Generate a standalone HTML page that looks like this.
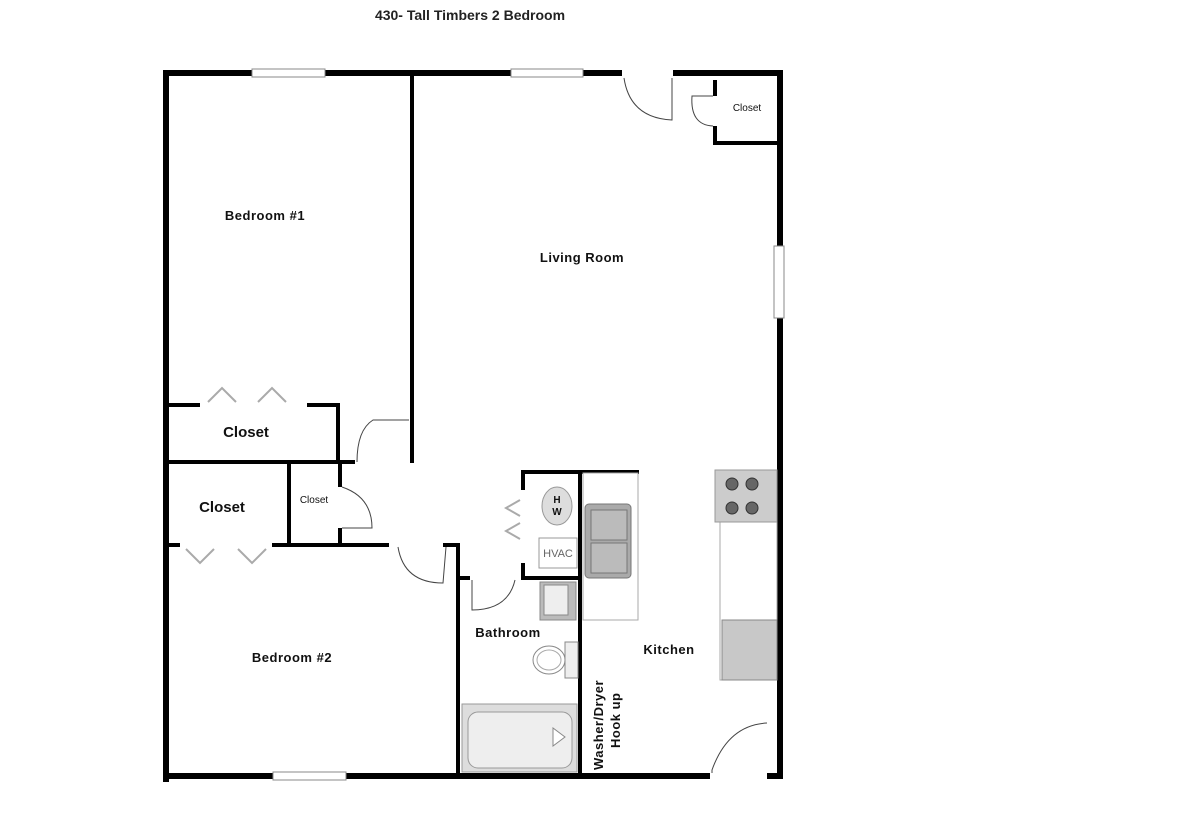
<!DOCTYPE html>
<html><head><style>
html,body{margin:0;padding:0;background:#fff;width:1200px;height:821px;overflow:hidden}
svg{display:block}
text{font-family:"Liberation Sans",Arial,sans-serif;fill:#111}
.b{font-weight:bold;font-size:13px;letter-spacing:0.5px}
</style></head><body>
<svg width="1200" height="821" viewBox="0 0 1200 821">
<text x="470" y="20" text-anchor="middle" style="font-size:14px;font-weight:bold;fill:#222">430- Tall Timbers 2 Bedroom</text>
<g fill="#000">
<!-- outer walls -->
<rect x="163" y="70" width="459" height="6"/>
<rect x="673" y="70" width="110" height="6"/>
<rect x="163" y="70" width="6" height="712"/>
<rect x="777" y="70" width="6" height="709"/>
<rect x="163" y="773" width="547" height="6"/>
<rect x="767" y="773" width="16" height="6"/>
<!-- interior -->
<rect x="410" y="76" width="4" height="387"/>
<rect x="169" y="403" width="31" height="4"/>
<rect x="307" y="403" width="33" height="4"/>
<rect x="336" y="403" width="4" height="60"/>
<rect x="169" y="460" width="186" height="4"/>
<rect x="287" y="462" width="4" height="85"/>
<rect x="338" y="462" width="4" height="25"/>
<rect x="338" y="528" width="4" height="18"/>
<rect x="169" y="543" width="11" height="4"/>
<rect x="272" y="543" width="117" height="4"/>
<rect x="443" y="543" width="17" height="4"/>
<rect x="456" y="543" width="4" height="232"/>
<rect x="456" y="576" width="14" height="4"/>
<rect x="521" y="470" width="118" height="4"/>
<rect x="521" y="470" width="4" height="20"/>
<rect x="521" y="563" width="4" height="17"/>
<rect x="521" y="576" width="60" height="4"/>
<rect x="578" y="470" width="4" height="305"/>
<rect x="713" y="80" width="4" height="16"/>
<rect x="713" y="126" width="4" height="18"/>
<rect x="713" y="141" width="66" height="4"/>
</g>
<!-- windows -->
<g fill="#fff" stroke="#888" stroke-width="1">
<rect x="252" y="69" width="73" height="8"/>
<rect x="511" y="69" width="72" height="8"/>
<rect x="774" y="246" width="10" height="72"/>
<rect x="273" y="772" width="73" height="8"/>
</g>
<!-- doors -->
<g fill="none" stroke="#444" stroke-width="1">
<path d="M624 78 Q630 118 672 120 L672 78"/>
<path d="M713 96 L692 96 Q690 125 713 126"/>
<path d="M409 420 L373 420 Q357 430 357 462"/>
<path d="M342 487 Q372 497 372 528 L342 528"/>
<path d="M398 547 Q404 583 443 583 L446 547"/>
<path d="M472 580 L472 610 Q508 610 515 580"/>
<path d="M767 723 Q728 725 712 770 L712 773"/>
</g>
<!-- bifold doors -->
<g fill="none" stroke="#aaa" stroke-width="2">
<path d="M208 402 L222 388 L236 402"/><path d="M258 402 L272 388 L286 402"/>
<path d="M186 549 L200 563 L214 549"/><path d="M238 549 L252 563 L266 549"/>
<path d="M520 500 L506 508 L520 516"/><path d="M520 523 L506 531 L520 539"/>
</g>
<!-- HW, HVAC -->
<ellipse cx="557" cy="506" rx="15" ry="19" fill="#ddd" stroke="#999"/>
<text x="557" y="503" text-anchor="middle" style="font-size:10px;font-weight:bold">H</text>
<text x="557" y="515" text-anchor="middle" style="font-size:10px;font-weight:bold">W</text>
<rect x="539" y="538" width="38" height="30" fill="#fff" stroke="#999"/>
<text x="558" y="557" text-anchor="middle" style="font-size:11px;fill:#666">HVAC</text>
<!-- kitchen counter & sink -->
<rect x="583" y="473" width="55" height="147" fill="#fff" stroke="#aaa"/>
<rect x="585" y="504" width="46" height="74" rx="4" fill="#aaa" stroke="#777"/>
<rect x="591" y="510" width="36" height="30" fill="#bbb" stroke="#777"/>
<rect x="591" y="543" width="36" height="30" fill="#bbb" stroke="#777"/>
<!-- bath sink -->
<rect x="540" y="582" width="36" height="38" fill="#bbb" stroke="#888"/>
<rect x="544" y="585" width="24" height="30" fill="#eee" stroke="#888"/>
<!-- toilet -->
<rect x="565" y="642" width="13" height="36" fill="#eee" stroke="#888"/>
<ellipse cx="549" cy="660" rx="16" ry="14" fill="#fff" stroke="#888"/>
<ellipse cx="549" cy="660" rx="12" ry="10" fill="none" stroke="#aaa"/>
<!-- tub -->
<rect x="462" y="704" width="115" height="68" fill="#ddd" stroke="#999"/>
<rect x="468" y="712" width="104" height="56" rx="10" fill="#eee" stroke="#999"/>
<path d="M553 728 L553 746 L565 737 Z" fill="#fff" stroke="#888"/>
<!-- stove, counter, fridge -->
<rect x="720" y="522" width="57" height="158" fill="#fff" stroke="#aaa"/>
<rect x="715" y="470" width="62" height="52" fill="#ccc" stroke="#999"/>
<g fill="#666" stroke="#333"><circle cx="732" cy="484" r="6"/><circle cx="752" cy="484" r="6"/><circle cx="732" cy="508" r="6"/><circle cx="752" cy="508" r="6"/></g>
<rect x="722" y="620" width="55" height="60" fill="#c8c8c8" stroke="#888"/>
<!-- labels -->
<text class="b" x="265" y="220" text-anchor="middle">Bedroom #1</text>
<text class="b" x="582" y="262" text-anchor="middle">Living Room</text>
<text x="747" y="111" text-anchor="middle" style="font-size:10px">Closet</text>
<text x="246" y="437" text-anchor="middle" style="font-size:15px;font-weight:bold">Closet</text>
<text x="222" y="512" text-anchor="middle" style="font-size:15px;font-weight:bold">Closet</text>
<text x="314" y="503" text-anchor="middle" style="font-size:10px">Closet</text>
<text class="b" x="292" y="662" text-anchor="middle">Bedroom #2</text>
<text class="b" x="508" y="637" text-anchor="middle">Bathroom</text>
<text class="b" x="669" y="654" text-anchor="middle">Kitchen</text>
<text class="b" transform="translate(603,770) rotate(-90)">Washer/Dryer</text>
<text class="b" transform="translate(620,748) rotate(-90)">Hook up</text>
</svg>
</body></html>
